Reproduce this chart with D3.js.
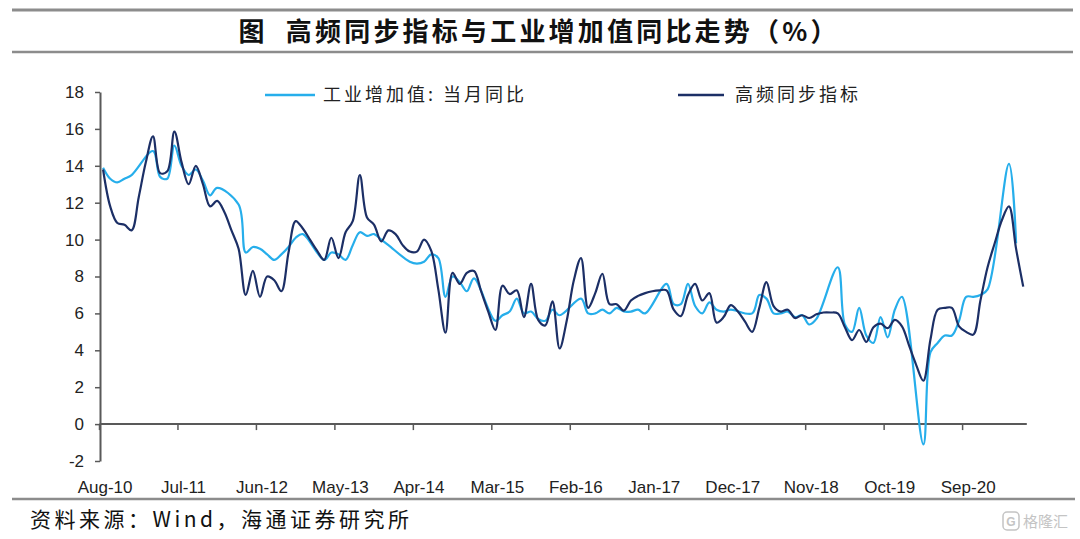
<!DOCTYPE html>
<html>
<head>
<meta charset="utf-8">
<script src="https://cdn.jsdelivr.net/npm/d3@7"></script>
<style>
  html, body { margin: 0; padding: 0; background: #fff; }
  svg { display: block; }
</style>
</head>
<body>
<div id="chart"></div>
<script>
// ---------- data ----------
const months = [
  "Aug-10","Sep-10","Oct-10","Nov-10","Dec-10",
  "Jan-11","Feb-11","Mar-11","Apr-11","May-11","Jun-11","Jul-11","Aug-11","Sep-11","Oct-11","Nov-11","Dec-11",
  "Jan-12","Feb-12","Mar-12","Apr-12","May-12","Jun-12","Jul-12","Aug-12","Sep-12","Oct-12","Nov-12","Dec-12",
  "Jan-13","Feb-13","Mar-13","Apr-13","May-13","Jun-13","Jul-13","Aug-13","Sep-13","Oct-13","Nov-13","Dec-13",
  "Jan-14","Feb-14","Mar-14","Apr-14","May-14","Jun-14","Jul-14","Aug-14","Sep-14","Oct-14","Nov-14","Dec-14",
  "Jan-15","Feb-15","Mar-15","Apr-15","May-15","Jun-15","Jul-15","Aug-15","Sep-15","Oct-15","Nov-15","Dec-15",
  "Jan-16","Feb-16","Mar-16","Apr-16","May-16","Jun-16","Jul-16","Aug-16","Sep-16","Oct-16","Nov-16","Dec-16",
  "Jan-17","Feb-17","Mar-17","Apr-17","May-17","Jun-17","Jul-17","Aug-17","Sep-17","Oct-17","Nov-17","Dec-17",
  "Jan-18","Feb-18","Mar-18","Apr-18","May-18","Jun-18","Jul-18","Aug-18","Sep-18","Oct-18","Nov-18","Dec-18",
  "Jan-19","Feb-19","Mar-19","Apr-19","May-19","Jun-19","Jul-19","Aug-19","Sep-19","Oct-19","Nov-19","Dec-19",
  "Jan-20","Feb-20","Mar-20","Apr-20","May-20","Jun-20","Jul-20","Aug-20","Sep-20","Oct-20","Nov-20","Dec-20",
  "Jan-21","Feb-21","Mar-21","Apr-21","May-21"
];

// 工业增加值: 当月同比 (Jan/Feb not published separately -> null)
const ipYoY = [
  13.9, 13.3, 13.1, 13.3, 13.5,
  null, null, 14.8, 13.4, 13.3, 15.1, 14.0, 13.5, 13.8, 13.2, 12.4, 12.8,
  null, null, 11.9, 9.3, 9.6, 9.5, 9.2, 8.9, 9.2, 9.6, 10.1, 10.3,
  null, null, 8.9, 9.3, 9.2, 8.9, 9.7, 10.4, 10.2, 10.3, 10.0, 9.7,
  null, null, 8.8, 8.7, 8.8, 9.2, 9.0, 6.9, 8.0, 7.7, 7.2, 7.9,
  null, null, 5.6, 5.9, 6.1, 6.8, 6.0, 6.1, 5.7, 5.6, 6.2, 5.9,
  null, null, 6.8, 6.0, 6.0, 6.2, 6.0, 6.3, 6.1, 6.1, 6.2, 6.0,
  null, null, 7.6, 6.5, 6.5, 7.6, 6.4, 6.0, 6.6, 6.2, 6.1, 6.2,
  null, null, 6.0, 7.0, 6.8, 6.0, 6.0, 6.1, 5.8, 5.9, 5.4, 5.7,
  null, null, 8.5, 5.4, 5.0, 6.3, 4.8, 4.4, 5.8, 4.7, 6.2, 6.9,
  null, null, -1.1, 3.9, 4.4, 4.8, 4.8, 5.6, 6.9, 6.9, 7.0, 7.3,
  null, null, 14.1, 9.8, null
];

// 高频同步指标
const hfIndex = [
  13.8, 11.8, 10.9, 10.8, 10.5,
  12.3, 14.2, 15.6, 13.6, 13.7, 15.85, 14.2, 13.0, 14.0, 13.0, 11.8, 12.1,
  11.5, 10.5, 9.5, 7.0, 8.3, 6.9, 8.0, 7.8, 7.2, 9.3, 11.0, 10.6,
  10.0, 9.4, 8.9, 10.1, 9.0, 10.4, 11.0, 13.5, 11.2, 10.8, 9.9, 10.5,
  10.3, 9.7, 9.35, 9.35, 10.0, 9.4, 7.3, 4.95, 8.2, 7.6, 8.2, 8.3,
  7.2, 6.1, 5.1, 7.5, 7.05, 7.25, 5.8, 7.6, 5.65, 5.35, 6.65, 4.1,
  5.6, 7.8, 9.0, 6.3, 7.1, 8.15, 6.5, 6.5, 6.15, 6.7, 6.95, 7.1,
  7.2, 7.25, 7.25, 6.2, 5.85, 7.0, 7.6, 6.7, 7.1, 5.5, 5.8, 6.45,
  6.1, 5.55, 5.0, 6.3, 7.7, 6.4, 6.1, 6.2, 5.75, 5.9, 5.75, 5.95,
  6.05, 6.05, 6.0, 5.25, 4.55, 5.1, 4.45, 5.25, 5.45, 5.2, 5.65, 5.3,
  4.25, 3.2, 2.35, 4.6, 6.2, 6.3, 6.3, 5.3, 5.0, 4.85, 6.7, 8.5,
  9.8, 11.05, 11.8, 9.5, 7.45
];

const yTicks = [-2, 0, 2, 4, 6, 8, 10, 12, 14, 16, 18];
const xTickLabels = ["Aug-10","Jul-11","Jun-12","May-13","Apr-14","Mar-15","Feb-16","Jan-17","Dec-17","Nov-18","Oct-19","Sep-20"];

const seriesNames = ["工业增加值: 当月同比", "高频同步指标"];
const titleText = "图  高频同步指标与工业增加值同比走势（%）";
const sourceText = "资料来源：Wind，海通证券研究所";

// ---------- drawing ----------
const W = 1080, H = 539;
const LIGHT = "#26AEEB", DARK = "#1C2F66";
const latin = "'Liberation Sans', Arial, sans-serif";
const cjk = "'Noto Sans CJK SC', 'Noto Sans', sans-serif";

const svg = d3.select("#chart").append("svg")
  .attr("width", W).attr("height", H)
  .style("background", "#fff");

// frame lines
svg.append("line").attr("x1", 12).attr("x2", 1073).attr("y1", 10).attr("y2", 10)
  .attr("stroke", "#8c8c8c").attr("stroke-width", 3);
svg.append("line").attr("x1", 12).attr("x2", 1073).attr("y1", 52).attr("y2", 52)
  .attr("stroke", "#8c8c8c").attr("stroke-width", 2.5);
svg.append("line").attr("x1", 12).attr("x2", 1075).attr("y1", 499).attr("y2", 499)
  .attr("stroke", "#8c8c8c").attr("stroke-width", 2.5);

// title
svg.append("text")
  .attr("x", 539).attr("y", 41)
  .attr("text-anchor", "middle")
  .style("white-space", "pre")
  .attr("font-family", cjk).attr("font-weight", "bold").attr("font-size", 26)
  .attr("letter-spacing", 3.2)
  .attr("fill", "#111")
  .text(titleText);

// scales
const x = d3.scaleBand().domain(months).range([99.5, 1026.8]).padding(0);
const y = d3.scaleLinear().domain([-2, 18]).range([461, 92]);
const cx = m => x(m) + x.bandwidth() / 2;

// y axis
const yAxis = svg.append("g")
  .attr("transform", "translate(100,0)")
  .call(d3.axisLeft(y).tickValues(yTicks).tickSize(5).tickSizeOuter(0).tickPadding(11)
    .tickFormat(d => String(d)));
yAxis.select(".domain").attr("stroke", "#595959").attr("stroke-width", 2);
yAxis.selectAll(".tick line").attr("stroke", "#595959").attr("stroke-width", 1.5);
yAxis.selectAll(".tick text").attr("font-family", latin).attr("font-size", 17).attr("fill", "#222");

// x axis line at zero with ticks at category boundaries
const xAxisLine = svg.append("g").attr("transform", `translate(0,${y(0)})`);
xAxisLine.append("line")
  .attr("x1", x.range()[0]).attr("x2", x.range()[1])
  .attr("stroke", "#595959").attr("stroke-width", 2);
xAxisLine.selectAll("line.tk").data(xTickLabels).enter().append("line")
  .attr("class", "tk")
  .attr("x1", d => x(d)).attr("x2", d => x(d))
  .attr("y1", 0).attr("y2", 6)
  .attr("stroke", "#595959").attr("stroke-width", 1.5);

// x labels at the bottom
const xLab = svg.append("g")
  .attr("transform", `translate(0,${y(-2) + 20})`)
  .call(d3.axisBottom(x).tickValues(xTickLabels).tickSize(0).tickSizeOuter(0).tickPadding(0));
xLab.select(".domain").remove();
xLab.selectAll(".tick text").attr("font-family", latin).attr("font-size", 17).attr("fill", "#222")
  .attr("dy", "0.71em").attr("dx", 2);

// lines
const lineGen = d3.line()
  .x(d => cx(d.m)).y(d => y(d.v))
  .curve(d3.curveCatmullRom.alpha(0.5));

const lightData = months.map((m, i) => ({ m, v: ipYoY[i] })).filter(d => d.v !== null);
const darkData = months.map((m, i) => ({ m, v: hfIndex[i] })).filter(d => d.v !== null);

svg.append("path").datum(lightData)
  .attr("d", lineGen).attr("fill", "none")
  .attr("stroke", LIGHT).attr("stroke-width", 2.2).attr("stroke-linejoin", "round");
svg.append("path").datum(darkData)
  .attr("d", lineGen).attr("fill", "none")
  .attr("stroke", DARK).attr("stroke-width", 2.2).attr("stroke-linejoin", "round");

// legend
const legend = [
  { name: seriesNames[0], color: LIGHT, x1: 265, x2: 315, tx: 323 },
  { name: seriesNames[1], color: DARK, x1: 678, x2: 724, tx: 735 }
];
legend.forEach(l => {
  svg.append("line").attr("x1", l.x1).attr("x2", l.x2).attr("y1", 95).attr("y2", 95)
    .attr("stroke", l.color).attr("stroke-width", 2.5);
  svg.append("text").attr("x", l.tx).attr("y", 101)
    .attr("font-family", cjk).attr("font-size", 18).attr("letter-spacing", 3)
    .attr("fill", "#222").text(l.name);
});

// source
svg.append("text").attr("x", 30).attr("y", 527)
  .attr("font-family", cjk).attr("font-size", 21).attr("letter-spacing", 3.5)
  .attr("fill", "#111").text(sourceText);

// watermark
const wm = svg.append("g").attr("transform", "translate(1003,512)");
wm.append("rect").attr("x", 0).attr("y", 0).attr("width", 16).attr("height", 18).attr("rx", 4)
  .attr("fill", "none").attr("stroke", "#c4c4c4").attr("stroke-width", 1.5);
wm.append("text").attr("x", 8).attr("y", 14).attr("text-anchor", "middle")
  .attr("font-family", latin).attr("font-size", 12).attr("font-weight", "bold").attr("fill", "#c4c4c4").text("G");
wm.append("text").attr("x", 20).attr("y", 15)
  .attr("font-family", cjk).attr("font-size", 15).attr("fill", "#c4c4c4").text("格隆汇");
</script>
</body>
</html>
